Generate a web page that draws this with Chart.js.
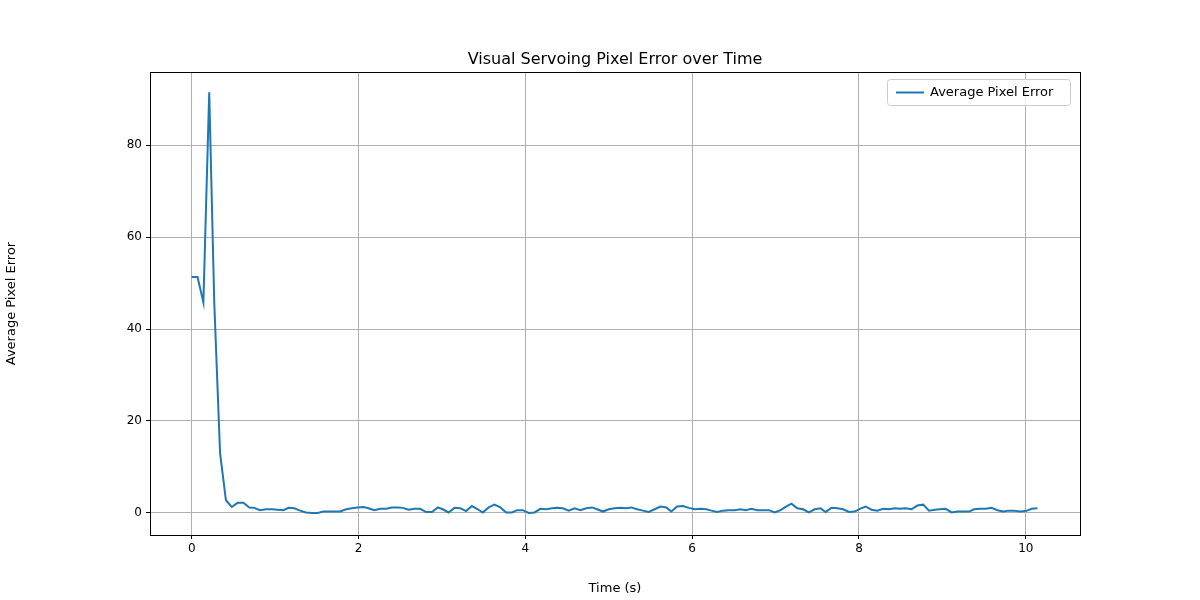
<!DOCTYPE html>
<html><head><meta charset="utf-8">
<script src="https://cdn.jsdelivr.net/npm/chart.js@4"></script>
<style>html,body{margin:0;background:#fff}#c{display:block}</style>
</head><body><canvas id="c" width="1200" height="600"></canvas>
<script>
const times=[0,0.07,0.14,0.21,0.27,0.34,0.41,0.48,0.55,0.62,0.69,0.75,0.82,0.89,0.96,1.03,1.10,1.16,1.23,1.30,1.37,1.44,1.51,1.58,1.64,1.71,1.78,1.85,1.92,1.99,2.06,2.12,2.19,2.26,2.33,2.40,2.47,2.53,2.60,2.67,2.74,2.81,2.88,2.95,3.01,3.08,3.15,3.22,3.29,3.36,3.43,3.49,3.56,3.63,3.70,3.77,3.84,3.90,3.97,4.04,4.11,4.18,4.25,4.32,4.38,4.45,4.52,4.59,4.66,4.73,4.80,4.86,4.93,5.00,5.07,5.14,5.21,5.27,5.34,5.41,5.48,5.55,5.62,5.69,5.75,5.82,5.89,5.96,6.03,6.10,6.17,6.23,6.30,6.37,6.44,6.51,6.58,6.64,6.71,6.78,6.85,6.92,6.99,7.06,7.12,7.19,7.26,7.33,7.40,7.47,7.54,7.60,7.67,7.74,7.81,7.88,7.95,8.01,8.08,8.15,8.22,8.29,8.36,8.43,8.49,8.56,8.63,8.70,8.77,8.84,8.91,8.97,9.04,9.11,9.18,9.25,9.32,9.38,9.45,9.52,9.59,9.66,9.73,9.80,9.86,9.93,10.00,10.07,10.14];
const errors=[51.3,51.3,45.8,91.5,46,13,2.8,1.3,2.2,2.2,1.2,1.1,0.6,0.8,
0.8,0.7,0.6,1.1,1.0,0.5,0.1,0.0,0.0,0.3,0.3,0.3,0.3,0.8,1.0,1.2,1.3,1.0,0.6,0.9,0.9,1.2,1.2,1.1,0.7,0.9,0.9,0.2,0.2,1.2,0.8,0.1,1.1,1.0,0.4,1.5,0.8,0.1,1.2,1.8,1.2,0.1,0.1,0.6,0.6,0.0,0.1,0.9,0.8,1.0,1.1,1.0,0.5,1.0,0.6,1.0,1.2,0.8,0.3,0.8,1.0,1.1,1.0,1.2,0.8,0.5,0.2,0.8,1.4,1.2,0.3,1.4,1.5,1.1,0.8,0.9,0.8,0.5,0.2,0.5,0.6,0.6,0.8,0.6,0.9,0.6,0.6,0.6,0.1,0.6,1.3,2.0,1.0,0.8,0.1,0.8,1.0,0.2,1.1,1.0,0.8,0.2,0.3,0.9,1.4,0.7,0.5,0.9,0.8,1.0,0.9,1.0,0.8,1.6,1.8,0.5,0.7,0.8,0.9,0.1,0.3,0.3,0.3,0.8,0.9,0.9,1.1,0.6,0.3,0.5,0.5,0.3,0.4,0.9,1.0];
const xTicks=[0,2,4,6,8,10];
const yTicks=[0,20,40,60,80];
const seriesLabel='Average Pixel Error';
const n=Math.min(times.length,errors.length);
const pts=[];for(let i=0;i<n;i++)pts.push({x:times[i],y:errors[i]});
const F='"DejaVu Sans", sans-serif';
const deco={id:'deco',afterDraw(ch){const c=ch.ctx,a=ch.chartArea;c.save();
c.strokeStyle='#000';c.lineWidth=1;c.strokeRect(a.left+0.5,a.top+0.5,a.right-a.left,a.bottom-a.top);
c.fillStyle='#000';c.font='16px '+F;c.textAlign='center';c.textBaseline='alphabetic';c.fillText('Visual Servoing Pixel Error over Time',(a.left+a.right)/2,64);
// legend
const w=183,h=26,x0=a.right-10-w,y0=a.top+7;c.fillStyle='rgba(255,255,255,0.8)';c.strokeStyle='#ccc';c.beginPath();c.roundRect(x0+0.5,y0+0.5,w,h,3);c.fill();c.stroke();
c.strokeStyle='#1f77b4';c.lineWidth=2;c.beginPath();c.moveTo(x0+9,y0+13.5);c.lineTo(x0+37,y0+13.5);c.stroke();
c.fillStyle='#000';c.font='13px '+F;c.textAlign='left';c.textBaseline='middle';c.fillText(seriesLabel,x0+43,y0+14);
c.restore();}};
new Chart(document.getElementById('c'),{type:'line',data:{datasets:[{label:seriesLabel,data:pts,borderColor:'#1f77b4',borderWidth:2,pointRadius:0,tension:0,fill:false}]},
options:{responsive:false,animation:false,layout:{padding:{top:72,right:120,left:0,bottom:0}},
plugins:{legend:{display:false},title:{display:false},tooltip:{enabled:false}},
scales:{x:{type:'linear',min:-0.5,max:10.65,afterFit(s){s.height=65;},afterBuildTicks(s){s.ticks=xTicks.map(v=>({value:v}));},
grid:{color:'#b0b0b0',lineWidth:1,drawTicks:true,tickLength:4,tickColor:'#000'},border:{display:false},
ticks:{color:'#000',font:{family:F,size:12},padding:3,maxRotation:0},title:{display:true,text:'Time (s)',color:'#000',font:{family:F,size:13},padding:{top:2}}},
y:{type:'linear',min:-4.8,max:95.9,afterFit(s){s.width=150;},afterBuildTicks(s){s.ticks=yTicks.map(v=>({value:v}));},
grid:{color:'#b0b0b0',lineWidth:1,drawTicks:true,tickLength:4,tickColor:'#000'},border:{display:false},
ticks:{color:'#000',font:{family:F,size:12},padding:4},title:{display:true,text:'Average Pixel Error',color:'#000',font:{family:F,size:13},padding:{bottom:0}}}}},
plugins:[deco]});
</script></body></html>
